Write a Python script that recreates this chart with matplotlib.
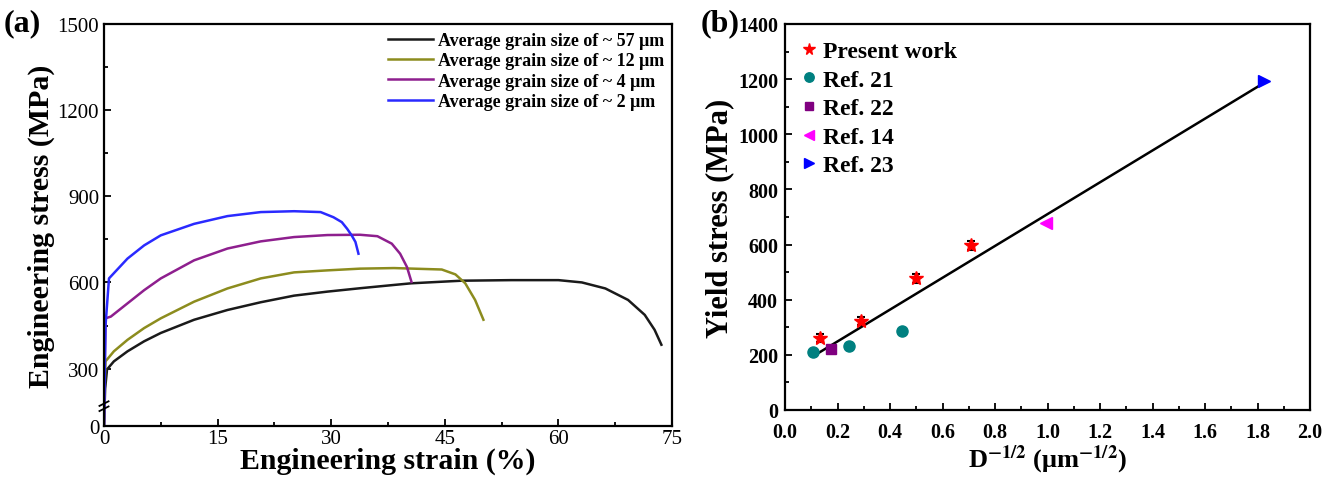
import matplotlib
matplotlib.use("Agg")
import matplotlib.pyplot as plt
import matplotlib.transforms as mtransforms
from matplotlib.ticker import MultipleLocator, FixedLocator

plt.rcParams['font.family'] = ['Liberation Serif', 'DejaVu Serif']
plt.rcParams['mathtext.fontset'] = 'stix'

# ---------------- Panel (a) data: engineering stress-strain curves ----------------
strain_57 = [0.0, 0.15, 0.4, 1.3, 3.1, 5.3, 7.5, 11.9, 16.3, 20.7, 25.1, 29.5,
             33.9, 38.2, 40.6, 47.2, 53.8, 60.0, 63.1, 66.2, 69.2, 71.4, 72.7, 73.6]
stress_57 = [105, 230, 297, 325, 360, 395, 424, 470, 504, 531, 554, 568,
             580, 591, 597, 606, 608, 608, 600, 579, 539, 487, 435, 383]

strain_12 = [0.0, 0.12, 0.2, 1.3, 3.1, 5.3, 7.5, 11.9, 16.3, 20.7, 25.1, 29.5,
             33.8, 38.3, 44.6, 46.4, 47.7, 49.0, 50.1]
stress_12 = [105, 260, 325, 360, 400, 441, 475, 533, 579, 614, 635, 642,
             648, 650, 645, 628, 597, 539, 470]

strain_4 = [0.0, 0.12, 0.2, 0.9, 3.1, 5.3, 7.5, 11.9, 16.3, 20.7, 25.1, 29.5,
            33.8, 36.1, 38.0, 39.1, 40.0, 40.6]
stress_4 = [105, 350, 475, 481, 527, 573, 614, 677, 718, 743, 758, 765,
            766, 761, 735, 700, 654, 602]

strain_2 = [0.0, 0.2, 0.66, 3.1, 5.3, 7.5, 11.9, 16.3, 20.7, 25.1, 28.6, 30.3,
            31.4, 32.1, 32.7, 33.2, 33.6]
stress_2 = [105, 450, 614, 683, 729, 764, 804, 831, 845, 848, 845, 827,
            810, 787, 764, 741, 700]

curve_labels = ["Average grain size of ~ 57 μm", "Average grain size of ~ 12 μm",
                "Average grain size of ~ 4 μm", "Average grain size of ~ 2 μm"]
curve_colors = ["#1a1a1a", "#8c8c1e", "#8e1f8e", "#2a2aff"]

# ---------------- Panel (b) data: Hall-Petch ----------------
present_x = [0.133, 0.291, 0.500, 0.707]
present_y = [261, 323, 477, 597]
present_err = [15, 15, 15, 15]
ref21_x = [0.107, 0.245, 0.444]
ref21_y = [210, 233, 288]
ref22_x = [0.176]
ref22_y = [222]
ref14_x = [0.993]
ref14_y = [679]
ref23_x = [1.824]
ref23_y = [1192]
fit_x = [0.107, 1.824]
fit_y = [195, 1186]

fig = plt.figure(figsize=(13.26, 4.81), dpi=100)

# ---------- (a) ----------
axa = fig.add_axes([104/1326, 1-427/481, (672-104)/1326, (427-25)/481])
for sx, sy, lab, col in zip([strain_57, strain_12, strain_4, strain_2],
                            [stress_57, stress_12, stress_4, stress_2],
                            curve_labels, curve_colors):
    axa.plot(sx, sy, color=col, lw=1.8, label=lab)
axa.set_xlim(0, 75)
axa.set_ylim(100, 1500)
axa.xaxis.set_major_locator(MultipleLocator(15))
axa.xaxis.set_minor_locator(MultipleLocator(7.5))
axa.yaxis.set_major_locator(FixedLocator([100, 300, 600, 900, 1200, 1500]))
axa.set_yticklabels(['0', '300', '600', '900', '1200', '1500'])
axa.yaxis.set_minor_locator(FixedLocator([450, 750, 1050, 1350]))
axa.set_xlabel("Engineering strain (%)", fontsize=21.5, fontweight='bold', labelpad=-1)
axa.set_ylabel("Engineering stress (MPa)", fontsize=21.5, fontweight='bold', labelpad=2)
axa.legend(loc='upper right', frameon=False, handlelength=2.5,
           handletextpad=0.25, labelspacing=0.18, borderaxespad=0.05,
           prop={'weight': 'bold', 'size': 13})
# axis break marks
tr = mtransforms.blended_transform_factory(axa.transAxes, axa.transData)
for yb in (160, 178):
    axa.plot([-0.008, 0.008], [yb - 8, yb + 8], transform=tr, color='black',
             lw=1.3, clip_on=False)
fig.text(0.003, 0.950, "(a)", fontsize=23, fontweight='bold', va='center')

# ---------- (b) ----------
axb = fig.add_axes([785/1326, 1-411/481, (1310-785)/1326, (411-25)/481])
axb.plot(fit_x, fit_y, color='black', lw=1.8, zorder=2)
axb.errorbar(present_x, present_y, yerr=present_err, fmt='none', ecolor='black',
             elinewidth=1.5, capsize=3, capthick=1.5, zorder=3)
axb.plot(present_x, present_y, linestyle='none', marker='*', color='red',
         markersize=10, label='Present work', zorder=4)
axb.plot(ref21_x, ref21_y, linestyle='none', marker='o', color='#008080',
         markersize=8, label='Ref. 21', zorder=4)
axb.plot(ref22_x, ref22_y, linestyle='none', marker='s', color='#800080',
         markersize=7.5, label='Ref. 22', zorder=4)
axb.plot(ref14_x, ref14_y, linestyle='none', marker='<', color='#ff00ff',
         markersize=8, label='Ref. 14', zorder=4)
axb.plot(ref23_x, ref23_y, linestyle='none', marker='>', color='#0000ff',
         markersize=8, label='Ref. 23', zorder=4)
axb.set_xlim(0, 2.0)
axb.set_ylim(0, 1400)
axb.xaxis.set_major_locator(MultipleLocator(0.2))
axb.xaxis.set_minor_locator(MultipleLocator(0.1))
axb.yaxis.set_major_locator(MultipleLocator(200))
axb.yaxis.set_minor_locator(MultipleLocator(100))
axb.xaxis.set_major_formatter(plt.FormatStrFormatter('%.1f'))
axb.set_xlabel(r"D$^{\mathbf{-1/2}}$ (μm$^{\mathbf{-1/2}}$)", fontsize=19,
               fontweight='bold', labelpad=0)
axb.set_ylabel("Yield stress (MPa)", fontsize=22, fontweight='bold', labelpad=3)
axb.legend(loc='upper left', frameon=False, handlelength=0.6, handletextpad=0.3,
           labelspacing=0.3, borderaxespad=0.3, markerscale=0.85,
           prop={'weight': 'bold', 'size': 17})
fig.text(0.528, 0.950, "(b)", fontsize=23, fontweight='bold', va='center')

for ax, bold, ls in ((axa, False, 15), (axb, True, 14.5)):
    for sp in ax.spines.values():
        sp.set_linewidth(1.6)
    ax.tick_params(which='both', direction='in', top=False, right=False, width=1.3)
    ax.tick_params(which='major', length=5, labelsize=ls)
    ax.tick_params(which='minor', length=3)
    if bold:
        for t in ax.get_xticklabels() + ax.get_yticklabels():
            t.set_fontweight('bold')
axa.tick_params(axis='x', which='major', pad=2)
axb.tick_params(axis='x', which='major', pad=9)
axb.tick_params(axis='y', which='major', pad=5)

fig.savefig("out.png", dpi=100)
